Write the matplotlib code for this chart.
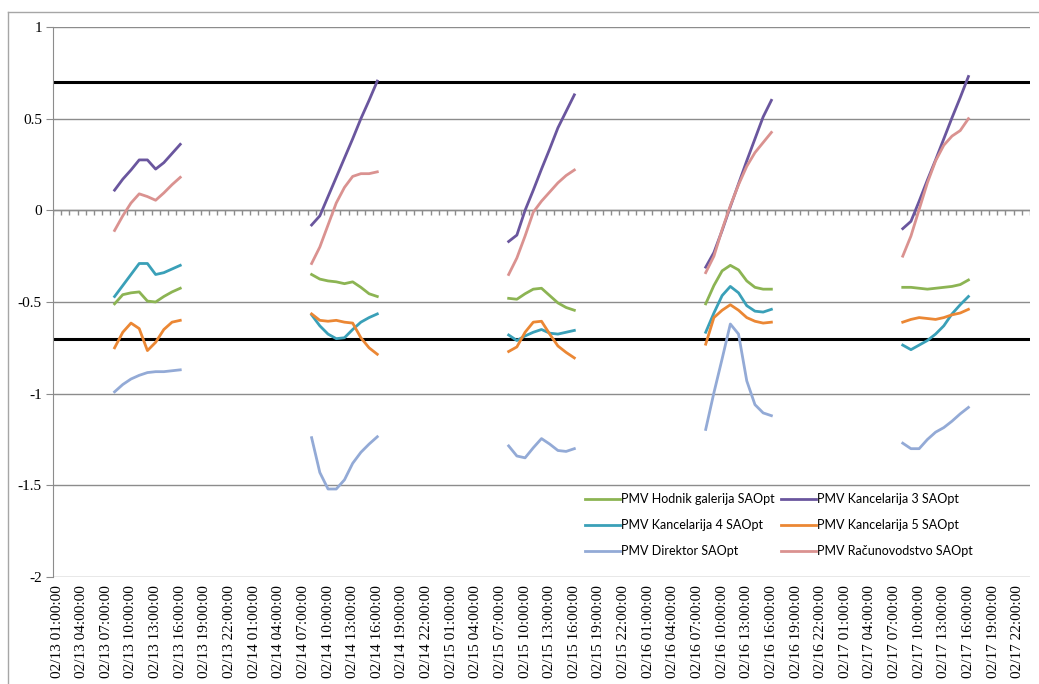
"""PMV per room, hourly, 02/13 - 02/17 (Excel-style line chart)."""

import matplotlib
matplotlib.use("Agg")
import matplotlib.pyplot as plt
import numpy as np
from matplotlib.lines import Line2D


DAYS = ["02/13", "02/14", "02/15", "02/16", "02/17"]
HOURS = [8, 9, 10, 11, 12, 13, 14, 15, 16]

# 9 hourly values (08:00 - 16:00) per day, 5 days
hodnik = [
    -0.51, -0.46, -0.45, -0.445, -0.495, -0.50, -0.47, -0.445, -0.425,
    -0.35, -0.375, -0.385, -0.39, -0.40, -0.39, -0.42, -0.455, -0.47,
    -0.48, -0.485, -0.455, -0.43, -0.425, -0.465, -0.505, -0.53, -0.545,
    -0.51, -0.41, -0.33, -0.30, -0.325, -0.385, -0.42, -0.43, -0.43,
    -0.42, -0.42, -0.425, -0.43, -0.425, -0.42, -0.415, -0.405, -0.38,
]
kancelarija3 = [
    0.11, 0.17, 0.22, 0.275, 0.275, 0.225, 0.26, 0.31, 0.36,
    -0.08, -0.03, 0.075, 0.18, 0.285, 0.39, 0.50, 0.60, 0.705,
    -0.17, -0.135, 0.0, 0.11, 0.225, 0.335, 0.45, 0.54, 0.63,
    -0.31, -0.23, -0.11, 0.02, 0.145, 0.27, 0.39, 0.51, 0.60,
    -0.10, -0.06, 0.05, 0.165, 0.275, 0.39, 0.505, 0.615, 0.73,
]
kancelarija4 = [
    -0.47, -0.41, -0.35, -0.29, -0.29, -0.35, -0.34, -0.32, -0.30,
    -0.57, -0.63, -0.675, -0.70, -0.695, -0.65, -0.61, -0.585, -0.565,
    -0.68, -0.71, -0.685, -0.665, -0.65, -0.67, -0.675, -0.665, -0.655,
    -0.665, -0.56, -0.465, -0.415, -0.45, -0.52, -0.55, -0.555, -0.54,
    -0.735, -0.76, -0.735, -0.71, -0.675, -0.63, -0.565, -0.515, -0.47,
]
kancelarija5 = [
    -0.75, -0.665, -0.615, -0.645, -0.765, -0.72, -0.65, -0.61, -0.60,
    -0.565, -0.60, -0.605, -0.60, -0.61, -0.615, -0.695, -0.75, -0.785,
    -0.77, -0.745, -0.665, -0.61, -0.605, -0.675, -0.74, -0.775, -0.805,
    -0.73, -0.585, -0.545, -0.515, -0.545, -0.585, -0.605, -0.615, -0.61,
    -0.61, -0.595, -0.585, -0.59, -0.595, -0.585, -0.57, -0.56, -0.54,
]
direktor = [
    -0.99, -0.95, -0.92, -0.90, -0.885, -0.88, -0.88, -0.875, -0.87,
    -1.24, -1.43, -1.52, -1.52, -1.47, -1.38, -1.32, -1.275, -1.235,
    -1.285, -1.34, -1.35, -1.295, -1.245, -1.275, -1.31, -1.315, -1.30,
    -1.195, -0.995, -0.81, -0.62, -0.675, -0.93, -1.06, -1.105, -1.12,
    -1.27, -1.30, -1.30, -1.25, -1.21, -1.185, -1.15, -1.11, -1.075,
]
racunovodstvo = [
    -0.11, -0.03, 0.04, 0.09, 0.075, 0.055, 0.095, 0.14, 0.18,
    -0.29, -0.20, -0.08, 0.04, 0.125, 0.185, 0.20, 0.20, 0.21,
    -0.35, -0.26, -0.14, -0.01, 0.05, 0.10, 0.15, 0.19, 0.22,
    -0.34, -0.25, -0.105, 0.025, 0.14, 0.24, 0.315, 0.37, 0.425,
    -0.25, -0.14, 0.005, 0.15, 0.27, 0.355, 0.405, 0.435, 0.50,
]

SERIES = [
    ("PMV Hodnik galerija SAOpt", hodnik, "#8cb453"),
    ("PMV Kancelarija 3 SAOpt", kancelarija3, "#6a569e"),
    ("PMV Kancelarija 4 SAOpt", kancelarija4, "#3aa0b8"),
    ("PMV Kancelarija 5 SAOpt", kancelarija5, "#eb8734"),
    ("PMV Direktor SAOpt", direktor, "#93aad6"),
    ("PMV Računovodstvo SAOpt", racunovodstvo, "#da9290"),
]

COMFORT_LIMITS = [0.7, -0.7]


def build_categories() -> list[str]:
    # hourly categories from 02/13 01:00 to 02/17 23:00
    cats = []
    for d in DAYS:
        for h in range(24):
            if d == DAYS[0] and h == 0:
                continue
            cats.append(f"{d} {h:02d}:00:00")
    return cats


def to_full(values: list[float], cats: list[str]) -> np.ndarray:
    full = np.full(len(cats), np.nan)
    k = 0
    for d in DAYS:
        for h in HOURS:
            full[cats.index(f"{d} {h:02d}:00:00")] = values[k]
            k += 1
    return full


def main() -> None:
    cats = build_categories()
    x = np.arange(len(cats))

    fig = plt.figure(figsize=(10.39, 6.84), dpi=100)
    ax = fig.add_axes([53 / 1039, 1 - 577 / 684, (1030 - 53) / 1039, 550 / 684])

    # outer chart border (left + top)
    fig.add_artist(Line2D([8 / 1039, 8 / 1039], [0, 1 - 12 / 684], color="#a6a6a6", lw=1))
    fig.add_artist(Line2D([8 / 1039, 1], [1 - 12 / 684, 1 - 12 / 684], color="#a6a6a6", lw=1))

    ax.set_xlim(-0.5, len(cats) - 0.5)
    ax.set_ylim(-2, 1)
    ax.set_yticks(np.arange(-2, 1.01, 0.5))
    ax.set_yticklabels(["-2", "-1.5", "-1", "-0.5", "0", "0.5", "1"])
    ax.grid(axis="y", color="#8c8c8c", lw=1)
    ax.set_axisbelow(True)

    for side in ["top", "right", "bottom"]:
        ax.spines[side].set_visible(False)
    ax.spines["left"].set_color("#8c8c8c")

    # category axis drawn at y = 0 with hourly tick marks
    ax.axhline(0, color="#8c8c8c", lw=1, zorder=1)
    ax.vlines(np.arange(-0.5, len(cats)), -0.025, 0, color="#8c8c8c", lw=1, zorder=1)

    for level in COMFORT_LIMITS:
        ax.axhline(level, color="black", lw=2.2, zorder=2)

    handles = {}
    for label, values, color in SERIES:
        (line,) = ax.plot(x, to_full(values, cats), color=color, lw=2, label=label, zorder=3)
        handles[label] = line

    ax.set_xticks(x[::3])
    ax.set_xticklabels(cats[::3], rotation=90, family="Liberation Serif", fontsize=11)
    ax.tick_params(axis="x", length=0, pad=6)
    ax.tick_params(axis="y", length=5, color="#8c8c8c", labelsize=11, pad=3)
    for lbl in ax.get_yticklabels():
        lbl.set_family("Liberation Serif")

    # Excel fills the legend row by row; matplotlib column by column
    order = [SERIES[i][0] for i in [0, 2, 4, 1, 3, 5]]
    ax.legend(
        [handles[n] for n in order],
        order,
        ncol=2,
        loc="lower left",
        bbox_to_anchor=(0.5445, 20 / 550),
        frameon=False,
        prop={"family": "Lato", "size": 9},
        borderpad=0,
        borderaxespad=0,
        handlelength=2.8,
        handletextpad=0.1,
        columnspacing=0.5,
        labelspacing=1.12,
    )

    fig.savefig("out.png", dpi=100)
    plt.close(fig)


if __name__ == "__main__":
    main()
